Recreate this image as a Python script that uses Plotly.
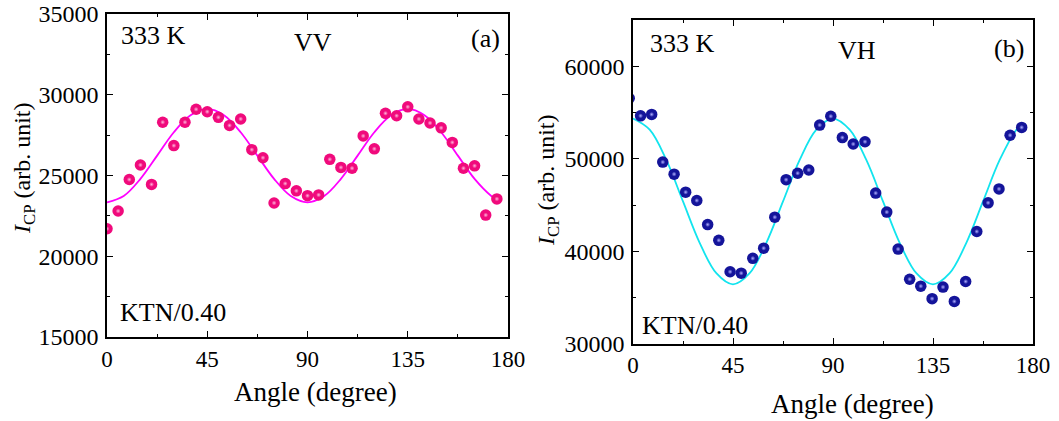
import plotly.graph_objects as go

# ---------------- data ----------------
vv_angle = [0, 5, 10, 15, 20, 25, 30, 35, 40, 45, 50, 55, 60, 65, 70, 75, 80, 85,
            90, 95, 100, 105, 110, 115, 120, 125, 130, 135, 140, 145, 150, 155, 160, 165, 170, 175]
vv_value = [21700, 22800, 24750, 25650, 24450, 28300, 26850, 28300, 29100, 28950, 28600, 28100,
            28500, 26600, 26100, 23300, 24500, 24050, 23750, 23800, 26000, 25500, 25450, 27450,
            26650, 28850, 28700, 29250, 28500, 28250, 27950, 27050, 25450, 25600, 22550, 23550]

vh_angle = [-1.7, 3.4, 8.4, 13.4, 18.5, 23.7, 28.7, 33.6, 38.6, 43.7, 48.7, 53.9, 58.8, 63.8,
            68.9, 74.1, 79.1, 84.0, 89.0, 94.2, 99.1, 104.4, 109.2, 114.2, 119.3, 124.5, 129.5,
            134.6, 139.5, 144.6, 149.7, 154.7, 159.8, 164.7, 169.7, 174.9]
vh_value = [56550, 54650, 54800, 49650, 48350, 46400, 45500, 42900, 41200, 37800, 37650, 39250,
            40350, 43700, 47750, 48450, 48800, 53650, 54600, 52300, 51600, 51850, 46300, 44250,
            40250, 37000, 36250, 34900, 36150, 34600, 36750, 42150, 45250, 46750, 52550, 53400]

# fitted curves (every 7.5 degrees, ending at 175)
fit_angle = [0, 7.5, 15, 22.5, 30, 37.5, 45, 52.5, 60, 67.5, 75, 82.5, 90,
             97.5, 105, 112.5, 120, 127.5, 135, 142.5, 150, 157.5, 165, 172.5, 175]
vv_fit = [23340, 23730, 24790, 26230, 27680, 28730, 29120, 28730, 27680, 26230, 24790, 23730, 23340,
          23730, 24790, 26230, 27680, 28730, 29120, 28730, 27680, 26230, 24790, 23730, 23510]
vh_fit = [54350, 53150, 49880, 45400, 40930, 37650, 36450, 37650, 40930, 45400, 49880, 53150, 54350,
          53150, 49880, 45400, 40930, 37650, 36450, 37650, 40930, 45400, 49880, 53150, 53810]

x_ticks = [0, 45, 90, 135, 180]
temp_label = "333 K"
sample_label = "KTN/0.40"

# ---------------- figure ----------------
W, H = 1059, 421
FONT = "Liberation Serif"
PINK, PINK_HI = "#f00a7c", "#ffb8dc"
NAVY, NAVY_HI = "#14149a", "#b0b0ff"
MAGENTA, CYAN = "#ff00ff", "#12e4ee"

def px(x):
    return x / W

def py(y):
    return 1 - y / H

fig = go.Figure()

# VV panel
fig.add_trace(go.Scatter(x=fit_angle, y=vv_fit, mode="lines", line=dict(color=MAGENTA, width=1.8, shape="spline"),
                         xaxis="x", yaxis="y", hoverinfo="skip"))
fig.add_trace(go.Scatter(x=vv_angle, y=vv_value, mode="markers",
                         marker=dict(size=11.5, color=PINK, line=dict(width=0)), xaxis="x", yaxis="y"))
fig.add_trace(go.Scatter(x=vv_angle, y=vv_value, mode="markers",
                         marker=dict(size=5, color=PINK, gradient=dict(type="radial", color=PINK_HI), line=dict(width=0)),
                         xaxis="x", yaxis="y", hoverinfo="skip"))

# VH panel
fig.add_trace(go.Scatter(x=fit_angle, y=vh_fit, mode="lines", line=dict(color=CYAN, width=1.8, shape="spline"),
                         xaxis="x2", yaxis="y2", hoverinfo="skip"))
fig.add_trace(go.Scatter(x=vh_angle, y=vh_value, mode="markers",
                         marker=dict(size=11.5, color=NAVY, line=dict(width=0)), xaxis="x2", yaxis="y2"))
fig.add_trace(go.Scatter(x=vh_angle, y=vh_value, mode="markers",
                         marker=dict(size=5, color=NAVY, gradient=dict(type="radial", color=NAVY_HI), line=dict(width=0)),
                         xaxis="x2", yaxis="y2", hoverinfo="skip"))

common = dict(showline=True, linecolor="black", linewidth=1.5, mirror="ticks", ticks="inside",
              ticklen=6, tickwidth=1.3, tickcolor="black", showgrid=False, zeroline=False,
              automargin=False)
xfont = dict(family=FONT, size=23, color="black")
yfont = dict(family=FONT, size=24, color="black")
minor_x = dict(dtick=22.5, tick0=0, ticks="inside", ticklen=3.5, tickcolor="black", tickwidth=1.3)

fig.update_layout(
    width=W, height=H, margin=dict(l=0, r=0, t=0, b=0, autoexpand=False),
    paper_bgcolor="white", plot_bgcolor="white", showlegend=False,
    xaxis=dict(domain=[px(107), px(508)], anchor="y", range=[0, 180], tickvals=x_ticks,
               minor=minor_x, tickfont=xfont, ticklabelstandoff=1, **common),
    yaxis=dict(domain=[py(337), py(14)], anchor="x", range=[15000, 35000], dtick=5000, tickformat="d",
               minor=dict(dtick=2500, ticks="inside", ticklen=3.5, tickcolor="black", tickwidth=1.3),
               tickfont=yfont, ticklabelstandoff=2, **common),
    xaxis2=dict(domain=[px(633), px(1033)], anchor="y2", range=[0, 180], tickvals=x_ticks,
                minor=minor_x, tickfont=xfont, ticklabelstandoff=0, **common),
    yaxis2=dict(domain=[py(344), py(20)], anchor="x2", range=[30000, 65000], dtick=10000, tickformat="d",
                minor=dict(dtick=5000, ticks="inside", ticklen=3.5, tickcolor="black", tickwidth=1.3),
                tickfont=yfont, ticklabelstandoff=2, **common),
)

def note(text, x, y, size=26, xanchor="center", angle=0):
    fig.add_annotation(text=text, x=px(x), y=py(y), xref="paper", yref="paper", showarrow=False,
                       xanchor=xanchor, yanchor="middle", textangle=angle,
                       font=dict(family=FONT, size=size, color="black"))

# panel (a)
note(temp_label, 119, 36, xanchor="left")
note("VV", 313, 42)
note("(a)", 485, 39)
note(sample_label, 118, 312, xanchor="left")
note("Angle (degree)", 315, 392, size=27)
note("<i>I</i><sub>CP</sub> (arb. unit)", 24, 168, size=24, angle=-90)

# panel (b)
note(temp_label, 648, 43, xanchor="left")
note("VH", 857, 51)
note("(b)", 1009, 48)
note(sample_label, 640, 325, xanchor="left")
note("Angle (degree)", 852, 404, size=27)
note("<i>I</i><sub>CP</sub> (arb. unit)", 548, 180, size=24, angle=-90)

fig.write_html("out.html", config={"displayModeBar": False},
               post_script="document.body.style.margin='0';")
